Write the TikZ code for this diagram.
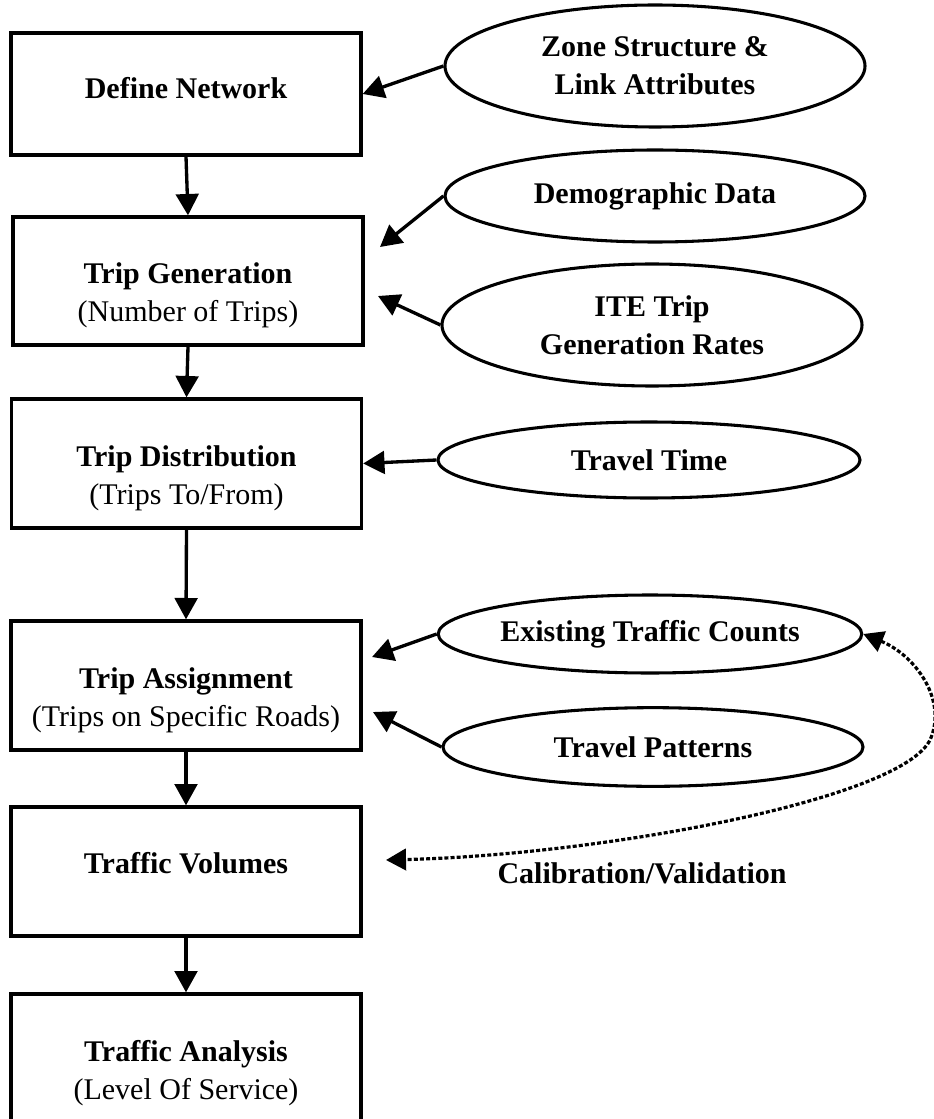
\documentclass[tikz,border=0pt]{standalone}
\usepackage{fontspec}
\setmainfont{Liberation Serif}
\usetikzlibrary{arrows.meta,shapes.geometric}

\newcommand{\labelfont}{\fontsize{22.5}{28.5}\selectfont}

\begin{document}
\begin{tikzpicture}[x=0.75pt,y=-0.75pt,
  stage/.style={draw, line width=2.5pt, minimum width=262.5pt, inner sep=0pt},
  source/.style={draw, ellipse, line width=2.3pt, inner sep=0pt, align=center,
    font=\labelfont\bfseries},
  caption/.style={align=center, inner sep=0pt, font=\labelfont},
  heading/.style={caption, font=\labelfont\bfseries},
  flow/.style={line width=2.5pt, -{Triangle[length=16pt,width=17pt]}},
  feedback/.style={line width=2.4pt, dash pattern=on 3pt off 1.6pt,
    {Triangle[length=15pt,width=16pt]}-{Triangle[length=15pt,width=16pt]}}
]
\path[use as bounding box] (0,0) rectangle (933,1119);

% model stages
\node[stage, minimum height=91.5pt]  (define) at (186,94) {};
\node[stage, minimum height=96pt]    (gen)    at (188,281) {};
\node[stage, minimum height=96.75pt] (dist)   at (186.5,463.5) {};
\node[stage, minimum height=96.75pt] (assign) at (186,685.5) {};
\node[stage, minimum height=96.75pt] (vol)    at (186,871.5) {};
\node[stage, minimum height=102pt]   (anal)   at (186,1062) {};

\node[heading, anchor=base] (defineT) at (186,99) {Define Network};
\node[caption] (genT) at (188,295) {\textbf{Trip Generation}\\(Number of Trips)};
\node[caption] (distT) at (186.5,478) {\textbf{Trip Distribution}\\(Trips To/From)};
\node[caption] (assignT) at (186,700) {\textbf{Trip Assignment}\\(Trips on Specific Roads)};
\node[heading, anchor=base] (volT) at (186,873) {Traffic Volumes};
\node[caption] (analT) at (186,1073) {\textbf{Traffic Analysis}\\(Level Of Service)};

% input data
\node[source, minimum width=315pt, minimum height=91.5pt] (zone) at (655,66)
  {Zone Structure \&\\Link Attributes};
\node[source, minimum width=315pt, minimum height=69pt] (demo) at (655,196)
  {Demographic Data};
\node[source, minimum width=315pt, minimum height=91.5pt] (ite) at (652,325)
  {ITE Trip\\Generation Rates};
\node[source, minimum width=316.5pt, minimum height=57pt] (ttime) at (649,460)
  {Travel Time};
\node[source, minimum width=315pt, minimum height=58.5pt] (counts) at (650,634)
  {Existing Traffic Counts};
\node[source, minimum width=315pt, minimum height=59pt] (patterns) at (653,747)
  {Travel Patterns};

% main sequence
\draw[flow] (define.south) -- (gen.north);
\draw[flow] (gen.south) -- (dist.north);
\draw[flow] (dist.south) -- (assign.north);
\draw[flow] (assign.south) -- (vol.north);
\draw[flow] (vol.south) -- (anal.north);

% inputs into the stages
\coordinate (genA) at (380,247);
\coordinate (genB) at (378,296);
\coordinate (assignA) at (372,657);
\coordinate (assignB) at (373,712);
\coordinate (volIn) at (386,860);

\draw[flow] (zone.west) -- (define.east);
\draw[flow] (demo.west) -- (genA);
\draw[flow] (ite.west) -- (genB);
\draw[flow] (ttime.west) -- (dist.east);
\draw[flow] (counts.west) -- (assignA);
\draw[flow] (patterns.west) -- (assignB);

% calibration loop
\draw[feedback] (counts.east) .. controls (915,655) and (948,700) .. (930,740)
  .. controls (900,800) and (600,855) .. (volIn);
\node[heading, anchor=base] (calib) at (642,883) {Calibration/Validation};
\end{tikzpicture}
\end{document}
